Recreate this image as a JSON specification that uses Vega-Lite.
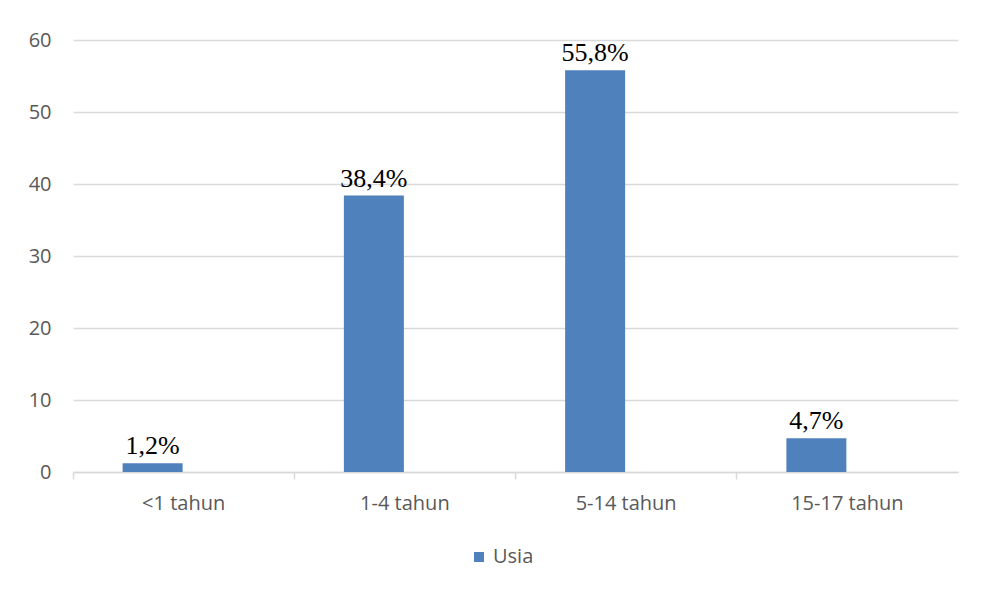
{
  "$schema": "https://vega.github.io/schema/vega-lite/v6.json",
  "width": 885,
  "height": 432,
  "autosize": {"type": "none"},
  "padding": {"left": 73, "top": 40, "right": 24, "bottom": 118},
  "background": "white",
  "config": {
    "view": {"stroke": null},
    "font": "Open Sans",
    "axis": {"labelFont": "Open Sans", "labelColor": "#595959", "labelFontSize": 20}
  },
  "data": {
    "values": [
      {"usia": "<1 tahun", "persen": 1.2, "label": "1,2%", "seri": "Usia"},
      {"usia": "1-4 tahun", "persen": 38.4, "label": "38,4%", "seri": "Usia"},
      {"usia": "5-14 tahun", "persen": 55.8, "label": "55,8%", "seri": "Usia"},
      {"usia": "15-17 tahun", "persen": 4.7, "label": "4,7%", "seri": "Usia"}
    ]
  },
  "encoding": {
    "x": {
      "field": "usia",
      "type": "nominal",
      "sort": null,
      "title": null,
      "scale": {"paddingInner": 0, "paddingOuter": 0},
      "axis": {
        "labelAngle": 0,
        "bandPosition": 0,
        "domainColor": "#d9d9d9",
        "domainWidth": 1.5,
        "tickColor": "#d9d9d9",
        "tickWidth": 1.5,
        "tickSize": 7,
        "labelPadding": 14,
        "labelBaseline": "top",
        "grid": false
      }
    },
    "y": {
      "field": "persen",
      "type": "quantitative",
      "title": null,
      "scale": {"domain": [0, 60], "nice": false},
      "axis": {
        "values": [0, 10, 20, 30, 40, 50, 60],
        "domain": false,
        "ticks": false,
        "grid": true,
        "gridColor": "#d9d9d9",
        "gridWidth": 1.5,
        "labelPadding": 22
      }
    }
  },
  "layer": [
    {
      "mark": {"type": "bar", "width": 60, "xOffset": -31},
      "encoding": {
        "color": {
          "field": "seri",
          "type": "nominal",
          "scale": {"range": ["#4f81bd"]},
          "legend": {
            "title": null,
            "orient": "none",
            "legendX": 396,
            "legendY": 507,
            "direction": "horizontal",
            "symbolType": "square",
            "symbolSize": 100,
            "labelOffset": 4,
            "labelFontSize": 20,
            "labelColor": "#595959",
            "labelFont": "Open Sans"
          }
        }
      }
    },
    {
      "mark": {
        "type": "text",
        "xOffset": -31,
        "dy": -9,
        "baseline": "alphabetic",
        "font": "Liberation Serif",
        "fontSize": 26,
        "color": "#000000"
      },
      "encoding": {"text": {"field": "label"}}
    }
  ]
}
